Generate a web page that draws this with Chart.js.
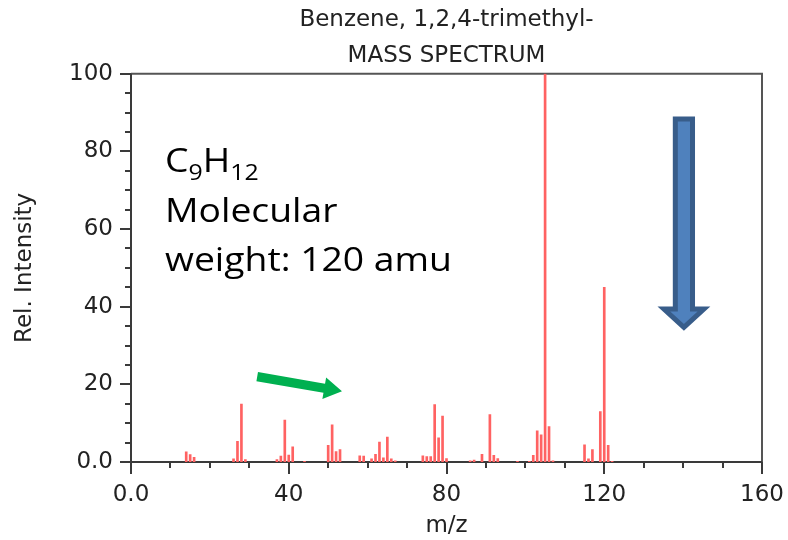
<!DOCTYPE html>
<html>
<head>
<meta charset="utf-8">
<script src="https://cdn.jsdelivr.net/npm/chart.js@4.4.1/dist/chart.umd.min.js"></script>
<style>
  html, body { margin: 0; padding: 0; background: #fff; }
  #wrap { width: 788px; height: 540px; }
</style>
</head>
<body>
<div id="wrap"><canvas id="myChart" width="788" height="540"></canvas></div>
<script>
// peaks (m/z and relative intensity)
const mz = [14, 15, 16, 26, 27, 28, 29, 37, 38, 39, 40, 41, 44, 50, 51, 52, 53, 58, 59, 61, 62, 63, 64, 65, 66, 67,
            74, 75, 76, 77, 78, 79, 80, 86, 87, 89, 91, 92, 93, 98, 101, 102, 103, 104, 105, 106, 107,
            115, 116, 117, 119, 120, 121, 122];
const intensity = [2.6, 1.9, 1.2, 0.8, 5.3, 14.9, 0.6, 0.6, 1.5, 10.8, 1.8, 3.9, 0.2, 4.3, 9.6, 2.7, 3.2, 1.6, 1.5, 0.8, 2.0, 5.1, 1.1, 6.4, 0.8, 0.3,
                   1.6, 1.4, 1.4, 14.8, 6.2, 11.8, 0.9, 0.3, 0.5, 2.0, 12.2, 1.7, 0.9, 0.2, 0.2, 1.7, 8.0, 7.0, 100, 9.1, 0.3,
                   4.4, 0.8, 3.2, 13.0, 45.0, 4.3, 0.2];

const titleLines = ["Benzene, 1,2,4-trimethyl-", "MASS SPECTRUM"];
const xMajorTicks = [0, 40, 80, 120, 160];
const yMajorTicks = [0, 20, 40, 60, 80, 100];

// annotation arrows, in data units
const greenArrow = { from: [32.0, 22.0], to: [53.5, 18.2] };
const blueArrow = { x: 140.2, top: 89, headBase: 39.4, tip: 33.9 };

let points = mz.map((m, i) => ({ x: m, y: intensity[i] }));

// writes text stretched horizontally (the reference text is wider than the font we have)
function wideText(ctx, str, x, y, sx) {
    ctx.save();
    ctx.translate(x, y);
    ctx.scale(sx, 1);
    ctx.fillText(str, 0, 0);
    let w = ctx.measureText(str).width * sx;
    ctx.restore();
    return w;
}

// draws the box, the ticks, the formula text and the two arrows
const extras = {
    id: "extras",
    beforeDatasetsDraw(chart) {
        const ctx = chart.ctx;
        const a = chart.chartArea;
        const xs = chart.scales.x, ys = chart.scales.y;
        ctx.save();
        ctx.strokeStyle = "#3a3a3a";
        ctx.lineWidth = 2;
        // ticks on x
        for (let v = 0; v <= 160; v += 10) {
            let px = Math.round(xs.getPixelForValue(v));
            let len = (v % 40 === 0) ? 12 : 6;
            ctx.beginPath();
            ctx.moveTo(px, a.bottom);
            ctx.lineTo(px, a.bottom + len);
            ctx.stroke();
        }
        // ticks on y
        for (let v = 0; v <= 100; v += 5) {
            let py = Math.round(ys.getPixelForValue(v));
            let len = (v % 20 === 0) ? 11 : 6;
            ctx.beginPath();
            ctx.moveTo(a.left, py);
            ctx.lineTo(a.left - len, py);
            ctx.stroke();
        }
        // frame
        ctx.strokeStyle = "#555";
        ctx.beginPath();
        ctx.moveTo(a.left, a.top);
        ctx.lineTo(a.right, a.top);
        ctx.lineTo(a.right, a.bottom);
        ctx.stroke();
        ctx.strokeStyle = "#3a3a3a";
        ctx.beginPath();
        ctx.moveTo(a.left, a.top);
        ctx.lineTo(a.left, a.bottom);
        ctx.lineTo(a.right, a.bottom);
        ctx.stroke();
        ctx.restore();
    },
    afterDatasetsDraw(chart) {
        const ctx = chart.ctx;
        const xs = chart.scales.x, ys = chart.scales.y;
        ctx.save();

        // formula text
        ctx.fillStyle = "#000";
        ctx.textBaseline = "alphabetic";
        const big = "33px 'Open Sans'", small = "22px 'Open Sans'";
        ctx.font = big;
        let sx = 287 / ctx.measureText("weight: 120 amu").width;
        let x0 = 165;
        let w = 0;
        ctx.font = big;
        w += wideText(ctx, "C", x0 + w, 172, sx);
        ctx.font = small;
        w += wideText(ctx, "9", x0 + w, 180, sx);
        ctx.font = big;
        w += wideText(ctx, "H", x0 + w, 172, sx);
        ctx.font = small;
        w += wideText(ctx, "12", x0 + w, 180, sx);
        ctx.font = big;
        wideText(ctx, "Molecular", x0, 222, sx);
        wideText(ctx, "weight: 120 amu", x0, 271, sx);

        // green arrow
        let gx = xs.getPixelForValue(greenArrow.from[0]), gy = ys.getPixelForValue(greenArrow.from[1]);
        let tx = xs.getPixelForValue(greenArrow.to[0]), ty = ys.getPixelForValue(greenArrow.to[1]);
        let ang = Math.atan2(ty - gy, tx - gx);
        let len = Math.hypot(tx - gx, ty - gy);
        ctx.translate(gx, gy);
        ctx.rotate(ang);
        ctx.fillStyle = "#00b050";
        ctx.beginPath();
        ctx.moveTo(0, -4.6);
        ctx.lineTo(len - 18, -4.6);
        ctx.lineTo(len - 18, -11);
        ctx.lineTo(len, 0);
        ctx.lineTo(len - 18, 11);
        ctx.lineTo(len - 18, 4.6);
        ctx.lineTo(0, 4.6);
        ctx.closePath();
        ctx.fill();
        ctx.setTransform(1, 0, 0, 1, 0, 0);

        // blue arrow
        let bx = xs.getPixelForValue(blueArrow.x);
        let bt = ys.getPixelForValue(blueArrow.top);
        let bh = ys.getPixelForValue(blueArrow.headBase);
        let bp = ys.getPixelForValue(blueArrow.tip);
        ctx.beginPath();
        ctx.moveTo(bx - 8.6, bt + 2.5);
        ctx.lineTo(bx + 8.6, bt + 2.5);
        ctx.lineTo(bx + 8.6, bh);
        ctx.lineTo(bx + 20, bh);
        ctx.lineTo(bx, bp - 3);
        ctx.lineTo(bx - 20, bh);
        ctx.lineTo(bx - 8.6, bh);
        ctx.closePath();
        ctx.fillStyle = "#4f81bd";
        ctx.fill();
        ctx.lineWidth = 5;
        ctx.lineJoin = "miter";
        ctx.strokeStyle = "#385d8a";
        ctx.stroke();
        ctx.restore();
    }
};

let config = {
    type: "bar",
    data: {
        datasets: [
            {
                label: "Spectrum",
                data: points,
                backgroundColor: "#ff6262",
                borderWidth: 0,
                barThickness: 2
            }
        ]
    },
    options: {
        responsive: false,
        animation: false,
        layout: { padding: { left: 0, right: 26, top: 0, bottom: 0 } },
        plugins: {
            legend: { display: false },
            tooltip: { enabled: false },
            title: {
                display: true,
                text: titleLines,
                fullSize: false,
                color: "#222",
                font: { family: "DejaVu Sans", size: 23, weight: "normal", lineHeight: 1.55 },
                padding: { top: 2.5, bottom: 0 }
            }
        },
        scales: {
            x: {
                type: "linear",
                min: 0,
                max: 160,
                offset: false,
                grid: { display: false, drawTicks: false },
                border: { display: false },
                afterBuildTicks: (s) => { s.ticks = xMajorTicks.map(v => ({ value: v })); },
                afterFit: (s) => { s.height = 78; s.paddingLeft = 0; s.paddingRight = 0; },
                ticks: {
                    color: "#222",
                    padding: 19,
                    maxRotation: 0,
                    font: { family: "DejaVu Sans", size: 23 },
                    callback: (v) => v === 0 ? "0.0" : String(v)
                },
                title: {
                    display: true,
                    text: "m/z",
                    color: "#222",
                    font: { family: "DejaVu Sans", size: 23, lineHeight: 1.0 },
                    padding: { top: 0, bottom: 2 }
                }
            },
            y: {
                min: 0,
                max: 100,
                grid: { display: false, drawTicks: false },
                border: { display: false },
                afterBuildTicks: (s) => { s.ticks = yMajorTicks.map(v => ({ value: v })); },
                afterFit: (s) => { s.width = 131; s.paddingTop = 0; s.paddingBottom = 0; },
                ticks: {
                    color: "#222",
                    padding: 18,
                    font: { family: "DejaVu Sans", size: 23 },
                    callback: (v) => v === 0 ? "0.0" : String(v)
                },
                title: {
                    display: true,
                    text: "Rel. Intensity",
                    color: "#222",
                    font: { family: "DejaVu Sans", size: 23, lineHeight: 1.0 },
                    padding: { top: 14, bottom: 0 }
                }
            }
        }
    },
    plugins: [extras]
};

let ctx = document.getElementById("myChart").getContext("2d");
let myChart = new Chart(ctx, config);
</script>
</body>
</html>
